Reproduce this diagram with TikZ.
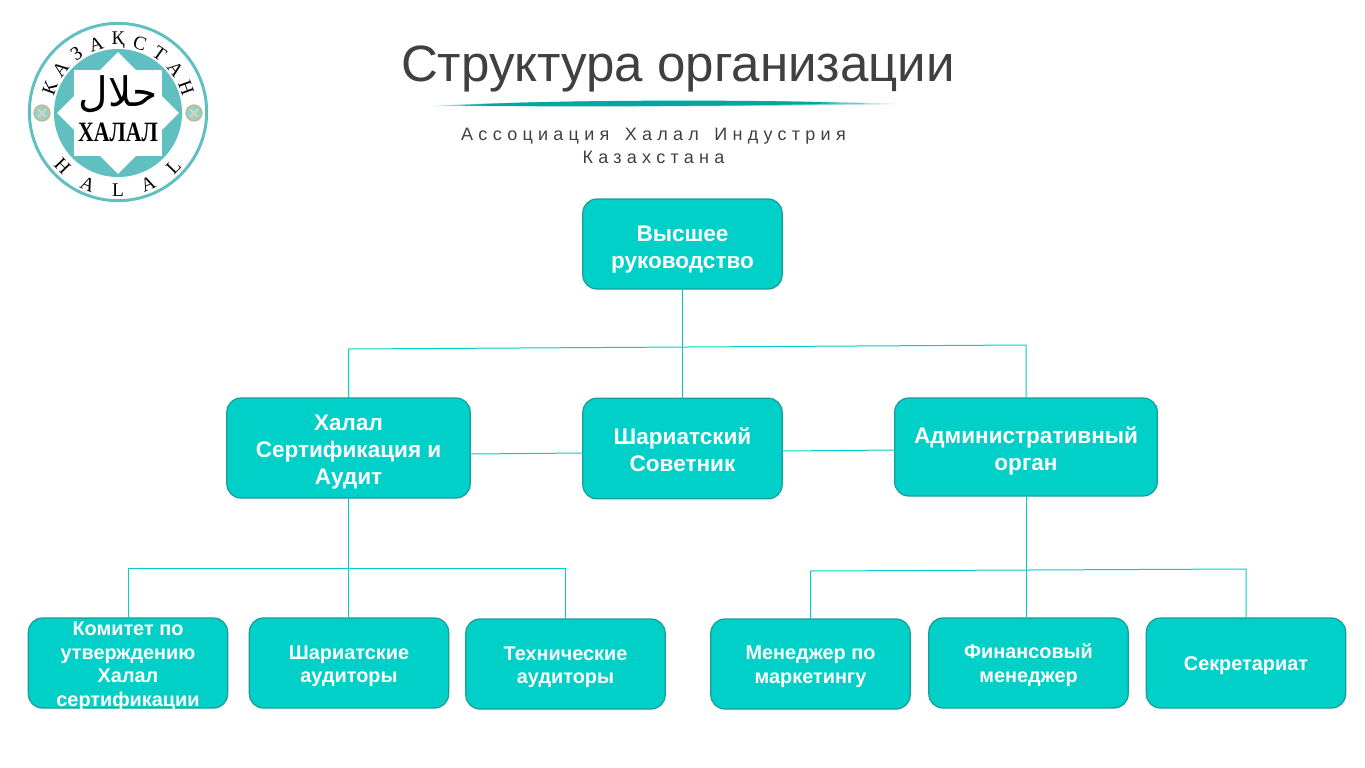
\documentclass[tikz,border=0pt]{standalone}
\usepackage{fontspec}
\setmainfont{Liberation Sans}
\newfontfamily\logofont{Liberation Serif}
\newfontfamily\arabicfont[Script=Arabic]{DejaVu Sans}
\newfontfamily\spacedfont[LetterSpace=29.3,WordSpace=1.5]{Liberation Sans}
\TeXXeTstate=1
\usetikzlibrary{positioning}
\definecolor{boxfill}{HTML}{00D0C8}
\definecolor{boxedge}{HTML}{1A9C9A}
\definecolor{logoteal}{HTML}{5FBFC1}
\definecolor{logogold}{HTML}{C9B27C}
\definecolor{brushteal}{HTML}{00A79D}
\definecolor{titlegray}{HTML}{404040}
\newcommand{\lowertext}[1]{\rule{0pt}{#1}}
\tikzset{
  orgbox/.style={draw=boxedge, fill=boxfill, rounded corners=10.5pt, line width=0.9pt, align=center,
    text=white, font=\fontsize{16.9}{20.2}\selectfont\bfseries, outer sep=0pt, inner sep=0pt},
  smallbox/.style={orgbox, minimum width=149.5pt, minimum height=67.5pt, font=\fontsize{14.9}{17.6}\selectfont\bfseries},
  link/.style={draw=boxfill, line width=0.75pt},
  logoletter/.style={font=\logofont\fontsize{14.5}{15}\selectfont, inner sep=0pt, text=black}
}
\begin{document}
\begin{tikzpicture}[x=0.75pt, y=-0.75pt]
    \useasboundingbox (0,0) rectangle (1365,768);

    % Logo
    \draw[logoteal, line width=2.2pt, fill=white] (118,112) circle[radius=66.5pt];
    \fill[logoteal] (118,113) circle[radius=48pt];
    \fill[white] (74,70) rectangle (162,156);
    \fill[white, rotate around={45:(118,113)}] (75,70) rectangle (161,156);
    \foreach \letter [count=\i] in {К,А,З,А,Қ,С,Т,А,Н}
        \node[logoletter, rotate={70-(\i-1)*17.5}] (kaz\i) at ({118+72.5*cos(160-(\i-1)*17.5)},{113-72.5*sin(160-(\i-1)*17.5)}) {\letter};
    \foreach \letter [count=\i] in {H,A,L,A,L}
        \node[logoletter, rotate={-46+(\i-1)*23}] (hal\i) at ({118+77*cos(224+(\i-1)*23)},{113-77*sin(224+(\i-1)*23)}) {\letter};
    \foreach \cx in {42,194} {
        \draw[draw=logogold, line width=0.9pt, fill=logoteal!70] (\cx,113) circle[radius=6pt];
        \draw[logogold!60, line width=1.5pt] (\cx-4,109) -- (\cx+4,117) (\cx-4,117) -- (\cx+4,109);
    }
    \node[inner sep=0pt] (arabic) at (118,94) {\arabicfont\fontsize{30.5}{31}\selectfont\beginR حلال\endR};
    \node[inner sep=0pt, xscale=0.78, font=\logofont\bfseries\fontsize{21}{21}\selectfont] (halal name) at (118,132) {ХАЛАЛ};

    % Title
    \node[text=titlegray, font=\fontsize{38.3}{40}\selectfont, inner sep=0pt] (title) at (678,69) {Структура организации};
    \fill[brushteal!25] (432,106) .. controls (520,100) and (800,99) .. (897,104) .. controls (800,107) and (520,107) .. (432,106);
    \fill[brushteal!60] (446,105.5) .. controls (530,100) and (790,100) .. (870,103.5) .. controls (790,106.5) and (530,106.5) .. (446,105.5);
    \fill[brushteal] (462,105.5) .. controls (540,99.5) and (770,99.5) .. (840,103) .. controls (770,106.5) and (540,106.5) .. (462,105.5);
    \node[text=titlegray, align=center, font=\spacedfont\fontsize{13.5}{17.2}\selectfont, inner sep=0pt] (subtitle) at (653.5,146) {Ассоциация Халал Индустрия\\Казахстана};

    % Upper boxes
    \node[orgbox, minimum width=149.5pt, minimum height=67.5pt] (chief) at (682.5,244) {\lowertext{19.5pt}Высшее\\руководство};
    \node[orgbox, minimum width=182.5pt, minimum height=75pt] (halal) at (348.5,448) {\lowertext{18pt}Халал\\Сертификация и\\Аудит};
    \node[orgbox, minimum width=149.5pt, minimum height=75.5pt] (sharia) at (682.5,448.5) {\lowertext{14pt}Шариатский\\Советник};
    \node[orgbox, minimum width=197pt, minimum height=73.5pt] (admin) at (1026,447) {\lowertext{18.5pt}Административный\\орган};

    % Lower boxes
    \node[smallbox, inner ysep=-3pt] (committee) at (128,663) {\lowertext{15pt}Комитет по\\утверждению\\Халал\\сертификации};
    \node[smallbox] (auditors) at (349,663) {\lowertext{15pt}Шариатские\\аудиторы};
    \node[smallbox] (technical) at (565.5,664) {\lowertext{15pt}Технические\\аудиторы};
    \node[smallbox] (marketing) at (810.5,664) {\lowertext{14.5pt}Менеджер по\\маркетингу};
    \node[smallbox] (finance) at (1028.5,663) {\lowertext{14pt}Финансовый\\менеджер};
    \node[smallbox] (secretariat) at (1246,663) {\lowertext{14pt}Секретариат};

    % Bars
    \coordinate (barleft) at (348.5,349);
    \coordinate (barright) at (1026,345);
    \coordinate (auditleft) at (128,568);
    \coordinate (auditright) at (565.5,568);
    \coordinate (adminleft) at (810.5,571);
    \coordinate (adminright) at (1246,569);

    % Connections
    \draw[link] (chief.south) -- (sharia.north);
    \draw[link] (halal.north) -- (barleft) -- (barright) -- (admin.north);
    \draw[link] (halal.east |- 0,454) -- (sharia.west |- 0,453);
    \draw[link] (sharia.east |- 0,451) -- (admin.west |- 0,450);
    \draw[link] (halal.south) -- (halal.south |- auditors.north);
    \draw[link] (committee.north) -- (auditleft) -- (auditright) -- (technical.north);
    \draw[link] (admin.south) -- (admin.south |- finance.north);
    \draw[link] (marketing.north) -- (adminleft) -- (adminright) -- (secretariat.north);
\end{tikzpicture}
\end{document}
